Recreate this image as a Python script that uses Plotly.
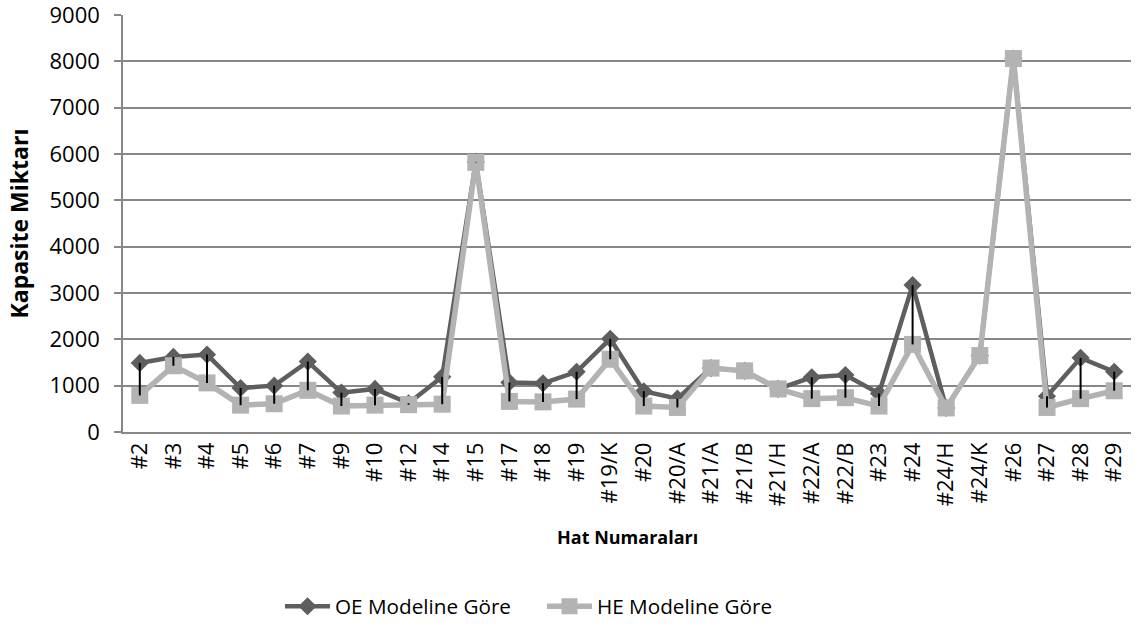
import plotly.graph_objects as go

categories = ["#2", "#3", "#4", "#5", "#6", "#7", "#9", "#10", "#12", "#14", "#15",
              "#17", "#18", "#19", "#19/K", "#20", "#20/A", "#21/A", "#21/B", "#21/H",
              "#22/A", "#22/B", "#23", "#24", "#24/H", "#24/K", "#26", "#27", "#28", "#29"]
oe_values = [1490, 1620, 1670, 950, 1000, 1520, 850, 930, 620, 1190, 5830,
             1070, 1050, 1300, 2010, 880, 720, 1380, 1320, 930,
             1180, 1230, 830, 3170, 520, 1650, 8060, 770, 1600, 1300]
he_values = [790, 1430, 1060, 580, 610, 900, 560, 580, 590, 600, 5820,
             660, 650, 710, 1570, 560, 530, 1380, 1320, 930,
             720, 740, 560, 1890, 520, 1650, 8060, 530, 720, 890]

series_names = ["OE Modeline Göre", "HE Modeline Göre"]
y_ticks = [0, 1000, 2000, 3000, 4000, 5000, 6000, 7000, 8000, 9000]

FONT = "Open Sans"
OE_COLOR = "#5e5e5e"
HE_COLOR = "#b3b3b3"
GRID = "#878787"

fig = go.Figure()
fig.add_trace(go.Scatter(
    x=categories, y=oe_values, name=series_names[0], mode="lines+markers",
    line=dict(color=OE_COLOR, width=4.5),
    marker=dict(symbol="diamond", size=14, color=OE_COLOR),
))
fig.add_trace(go.Scatter(
    x=categories, y=he_values, name=series_names[1], mode="lines+markers",
    line=dict(color=HE_COLOR, width=5.5),
    marker=dict(symbol="square", size=17, color=HE_COLOR),
))

# high-low lines between the two series
hl_x, hl_y = [], []
for c, a, b in zip(categories, oe_values, he_values):
    hl_x += [c, c, None]
    hl_y += [max(a, b), min(a, b), None]
fig.add_trace(go.Scatter(
    x=hl_x, y=hl_y, mode="lines", showlegend=False, hoverinfo="skip",
    line=dict(color="black", width=2),
))

fig.update_layout(
    width=1143, height=628,
    margin=dict(l=123, r=12, t=15, b=196, autoexpand=False),
    paper_bgcolor="white", plot_bgcolor="white",
    font=dict(family=FONT, size=20, color="black"),
    showlegend=True,
    legend=dict(orientation="h", x=(280 - 123) / 1008, xanchor="left",
                y=-0.418, yanchor="middle",
                font=dict(family=FONT, size=20.7, color="black"),
                itemwidth=45, entrywidth=202, entrywidthmode="pixels",
                traceorder="normal"),
)
fig.update_xaxes(
    type="category", categoryorder="array", categoryarray=categories,
    range=[-0.5, len(categories) - 0.5], automargin=False,
    showgrid=False, showline=True, linecolor=GRID, linewidth=1.5,
    ticks="", tickangle=-90, tickfont=dict(family=FONT, size=22, color="black"),
    zeroline=False,
)
fig.update_yaxes(
    range=[0, 9000], tickvals=y_ticks, ticktext=[str(v) for v in y_ticks],
    automargin=False, ticklabeloverflow="allow",
    showgrid=True, gridcolor=GRID, gridwidth=1.5,
    showline=True, linecolor=GRID, linewidth=1.5,
    ticks="outside", ticklen=7, tickcolor=GRID, tickwidth=1.5,
    ticklabelstandoff=10,
    tickfont=dict(family=FONT, size=22, color="black"),
    zeroline=False,
)
fig.add_annotation(text="<b>Hat Numaraları</b>", xref="paper", yref="paper",
                   x=0.5, y=-(537 - 432) / 417, xanchor="center", yanchor="middle",
                   showarrow=False, font=dict(family=FONT, size=18, color="black"))
fig.add_annotation(text="<b>Kapasite Miktarı</b>", xref="paper", yref="paper",
                   x=-(123 - 18) / 1008, y=0.5, xanchor="center", yanchor="middle",
                   textangle=-90, showarrow=False,
                   font=dict(family=FONT, size=23, color="black"))

fig.write_html("out.html")
